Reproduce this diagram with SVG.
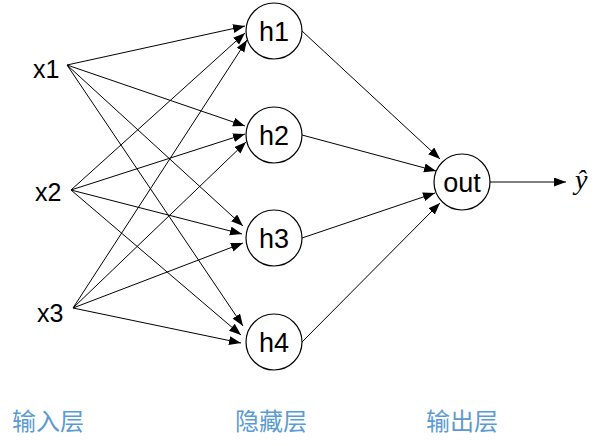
<svg xmlns="http://www.w3.org/2000/svg" width="596" height="446" viewBox="0 0 596 446">
<defs>
<style>
.node circle{fill:#fff;stroke:#000;stroke-width:1.2}
.node text{font-family:"Liberation Sans",Arial,sans-serif;font-size:27px;fill:#000;text-anchor:middle}
.in text{font-family:"Liberation Sans",Arial,sans-serif;font-size:25px;fill:#000}
.edges line{stroke:#000;stroke-width:1;marker-end:url(#arr)}
.layer{font-family:"Noto Sans CJK SC",sans-serif;font-size:24px;fill:#5B9BD5}
</style>
<marker id="arr" markerUnits="userSpaceOnUse" markerWidth="13" markerHeight="10" refX="12" refY="4.5" orient="auto">
<path d="M0,0 L12,4.5 L0,9 z" fill="#000"/>
</marker>
</defs>
<rect width="596" height="446" fill="#fff"/>
<g id="connectors" class="edges">
<line x1="67" y1="65" x2="245" y2="26"/>
<line x1="67" y1="65" x2="245" y2="126"/>
<line x1="67" y1="65" x2="243" y2="226"/>
<line x1="67" y1="65" x2="243" y2="326"/>
<line x1="71" y1="190" x2="245" y2="33"/>
<line x1="71" y1="190" x2="245" y2="134"/>
<line x1="71" y1="190" x2="242" y2="234"/>
<line x1="71" y1="190" x2="241" y2="335"/>
<line x1="73" y1="308" x2="247" y2="40"/>
<line x1="73" y1="308" x2="246" y2="142"/>
<line x1="73" y1="308" x2="243" y2="243"/>
<line x1="73" y1="308" x2="241" y2="343"/>
<line x1="302" y1="31" x2="440" y2="159"/>
<line x1="302" y1="135" x2="436" y2="171"/>
<line x1="302" y1="238" x2="435" y2="193"/>
<line x1="302" y1="342" x2="440" y2="203"/>
<line x1="490" y1="182" x2="566" y2="182"/>
</g>
<g id="x1" class="in"><text x="33" y="78">x1</text></g>
<g id="x2" class="in"><text x="35" y="201">x2</text></g>
<g id="x3" class="in"><text x="37" y="322">x3</text></g>
<g id="h1" class="node"><circle cx="274" cy="31" r="28"/><text x="274" y="41">h1</text></g>
<g id="h2" class="node"><circle cx="274" cy="135" r="28"/><text x="274" y="145">h2</text></g>
<g id="h3" class="node"><circle cx="274" cy="238" r="28"/><text x="274" y="248">h3</text></g>
<g id="h4" class="node"><circle cx="274" cy="342" r="28"/><text x="274" y="352">h4</text></g>
<g id="out" class="node"><circle cx="462" cy="182" r="28"/><text x="462" y="192">out</text></g>
<g id="yhat"><text x="575" y="189" font-family="Liberation Serif,serif" font-style="italic" font-size="28">ŷ</text></g>
<g id="labels">
<text class="layer" x="12" y="430">输入层</text>
<text class="layer" x="235" y="430">隐藏层</text>
<text class="layer" x="426" y="430">输出层</text>
</g>
</svg>
